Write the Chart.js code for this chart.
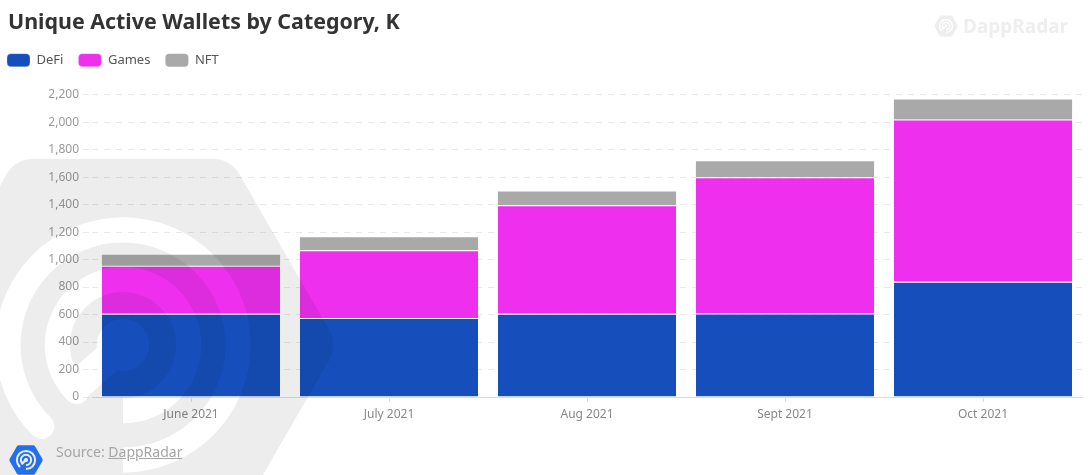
<!DOCTYPE html>
<html lang="en">
<head>
  <meta charset="UTF-8">
  <title>Unique Active Wallets by Category, K</title>
  <script src="https://cdn.jsdelivr.net/npm/chart.js"></script>
  <style>
    html, body { margin: 0; padding: 0; background: #fff; overflow: hidden; }
    #wrap { position: relative; width: 1088px; height: 475px; }
    #source { position: absolute; left: 56px; top: 442px; font: 14px "Noto Sans", sans-serif; color: #a5a5a5; }
    #source span { text-decoration: underline; }
    #brand { position: absolute; left: 963px; top: 13px; font: bold 19px "Noto Sans", sans-serif; color: #eee; }
  </style>
</head>
<body>
<div id="wrap">
  <canvas id="walletChart" width="1088" height="475"></canvas>
  <div id="brand">DappRadar</div>
  <div id="source">Source: <span>DappRadar</span></div>
</div>

<script>
  const categories = ["June 2021", "July 2021", "Aug 2021", "Sept 2021", "Oct 2021"];
  const defi = [605, 575, 605, 608, 838];
  const games = [350, 492, 790, 992, 1182];
  const nft = [80, 95, 100, 115, 145];

  // hexagon logo with the radar rings cut out
  function logoLayer(cx, cy, R, color) {
    const c = document.createElement('canvas');
    c.width = 1088;
    c.height = 475;
    const g = c.getContext('2d');
    const u = R / 213;
    const pts = [];
    for (let i = 0; i < 6; i++) {
      const a = i * Math.PI / 3;
      pts.push([cx + R * Math.cos(a), cy + R * Math.sin(a)]);
    }
    g.fillStyle = color;
    g.beginPath();
    g.moveTo((pts[0][0] + pts[1][0]) / 2, (pts[0][1] + pts[1][1]) / 2);
    for (let i = 1; i <= 6; i++) {
      const p = pts[i % 6], q = pts[(i + 1) % 6];
      g.arcTo(p[0], p[1], q[0], q[1], 30 * u);
    }
    g.closePath();
    g.fill();

    g.globalCompositeOperation = 'destination-out';
    g.lineWidth = 25 * u;
    g.strokeStyle = '#000';
    g.fillStyle = '#000';
    const start = Math.PI * 0.75, end = Math.PI * 2.5;
    [114, 65].forEach(function(r) {
      g.beginPath();
      g.arc(cx, cy, r * u, start, end);
      g.stroke();
      // rounded end only on the lower left side
      g.beginPath();
      g.arc(cx + r * u * Math.cos(start), cy + r * u * Math.sin(start), 12.5 * u, 0, Math.PI * 2);
      g.fill();
    });
    g.beginPath();
    g.arc(cx, cy, 26 * u, 0, Math.PI * 2);
    g.fill();
    g.lineWidth = 30 * u;
    g.beginPath();
    g.moveTo(cx, cy);
    g.lineTo(cx - 52 * u, cy + 46 * u);
    g.stroke();
    return c;
  }

  const watermark = {
    id: 'watermark',
    afterDatasetsDraw: function(chart) {
      const ctx = chart.ctx;
      ctx.save();
      ctx.drawImage(logoLayer(123, 345, 215, 'rgba(0,0,0,0.07)'), 0, 0);
      ctx.drawImage(logoLayer(946, 26, 12, '#eeeeee'), 0, 0);
      ctx.drawImage(logoLayer(26, 460, 17, '#2170ea'), 0, 0);
      ctx.restore();
    }
  };

  // legend sits closer to the title and further left than the library puts it
  const legendPlace = {
    id: 'legendPlace',
    afterLayout: function(chart) {
      chart.legend.left = 7 - 15;
      chart.legend.top -= 18;
    }
  };

  const topEdge = { top: 1 };

  const ctx = document.getElementById('walletChart').getContext('2d');
  const walletChart = new Chart(ctx, {
    type: 'bar',
    data: {
      labels: categories,
      datasets: [
        { label: 'DeFi', data: defi, backgroundColor: '#164fbb', borderColor: '#fff', borderWidth: topEdge },
        { label: 'Games', data: games, backgroundColor: '#ee30ee', borderColor: '#fff', borderWidth: topEdge },
        { label: 'NFT', data: nft, backgroundColor: '#a9a9a9' }
      ]
    },
    options: {
      responsive: false,
      animation: false,
      barPercentage: 0.9,
      categoryPercentage: 1,
      layout: { padding: { left: 8, right: 6, top: 10, bottom: 0 } },
      scales: {
        x: {
          stacked: true,
          grid: { drawOnChartArea: false, offset: false, tickLength: 5, color: '#ddd' },
          border: { color: '#ddd' },
          ticks: { color: '#888', font: { family: 'Noto Sans', size: 12 }, padding: 5, maxRotation: 0 },
          afterFit: function(scale) { scale.height = 78; }
        },
        y: {
          stacked: true,
          min: 0,
          max: 2200,
          afterFit: function(scale) { scale.width = 84; },
          grid: { color: '#e8e8e8', tickLength: 9, tickBorderDash: [6, 6], tickColor: '#e8e8e8' },
          border: { display: false, dash: [6, 6] },
          ticks: {
            stepSize: 200,
            color: '#999',
            padding: 4,
            font: { family: 'Noto Sans', size: 12 },
            callback: function(v) { return v.toLocaleString('en-US'); }
          }
        }
      },
      plugins: {
        title: {
          display: true,
          text: 'Unique Active Wallets by Category, K',
          align: 'start',
          color: '#333',
          font: { family: 'Noto Sans', size: 21.4, weight: 'bold' },
          padding: { top: 0, bottom: 21 }
        },
        legend: {
          position: 'top',
          align: 'start',
          labels: {
            boxWidth: 23,
            boxHeight: 13,
            useBorderRadius: true,
            borderRadius: 4,
            color: '#555',
            padding: 15,
            font: { family: 'Noto Sans', size: 13 }
          }
        },
        tooltip: { enabled: false }
      }
    },
    plugins: [watermark, legendPlace]
  });
</script>
</body>
</html>
